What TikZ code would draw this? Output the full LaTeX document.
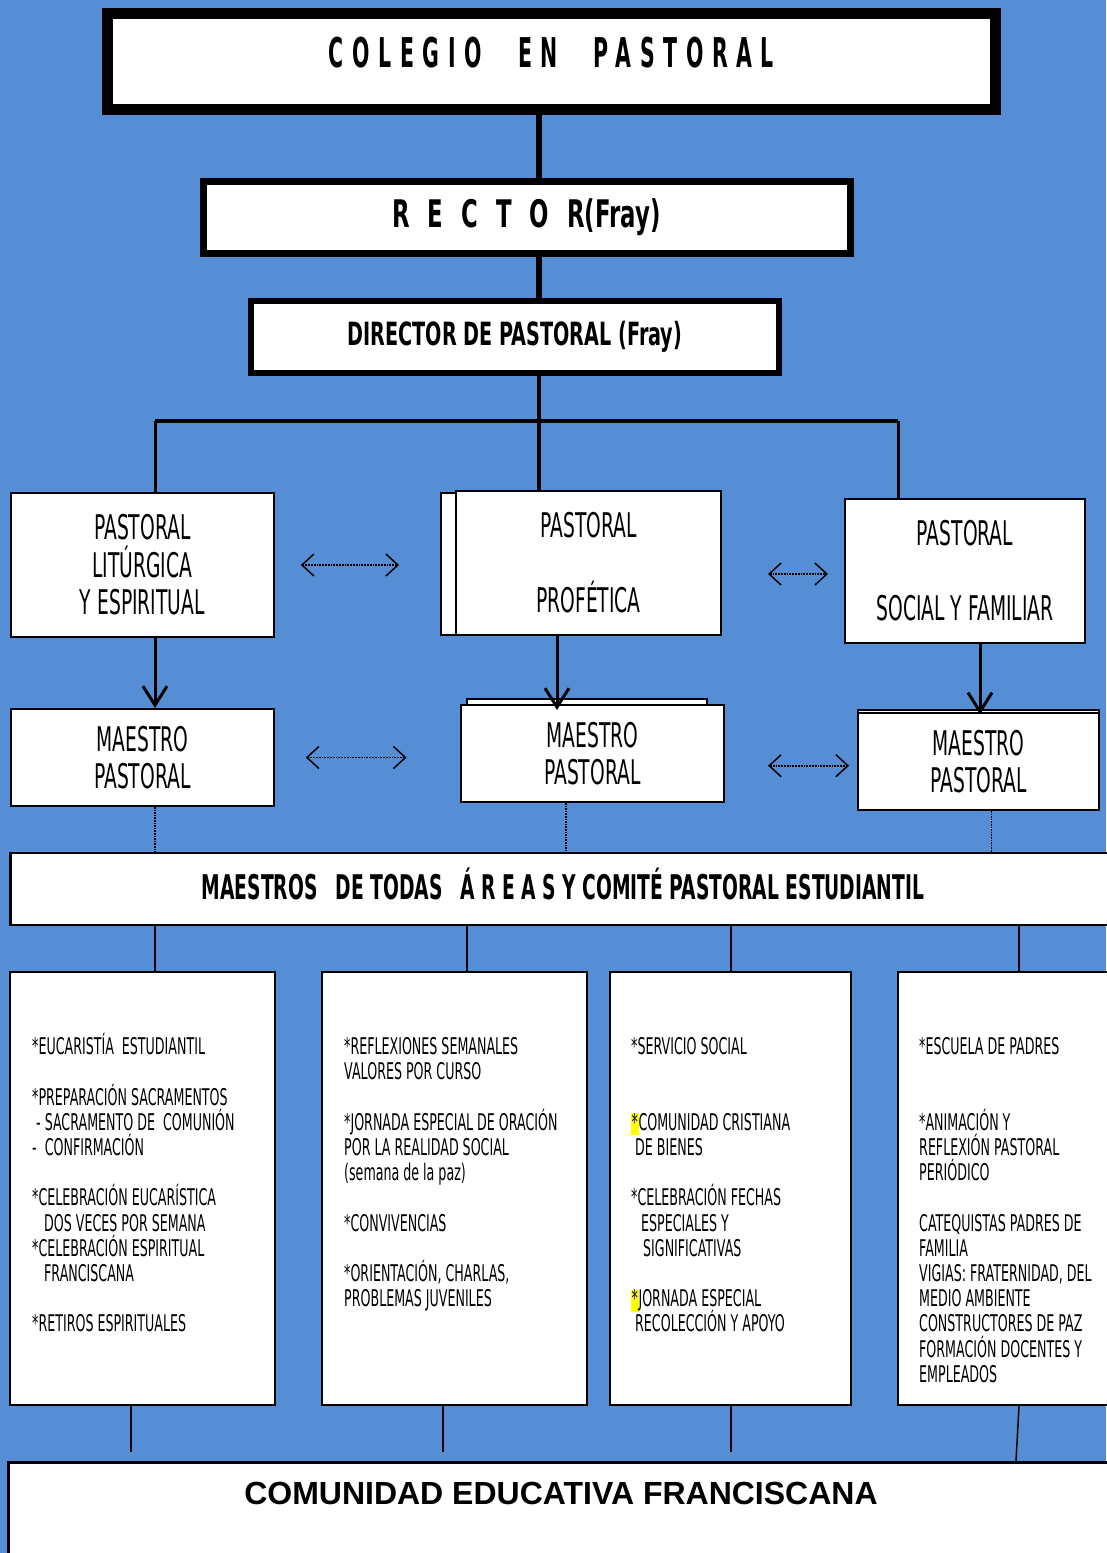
\documentclass[tikz,border=0pt]{standalone}
\usepackage{fontspec}
\setmainfont{DejaVu Sans}
\newfontfamily\agency[FakeStretch=0.55]{DejaVu Sans}
\newfontfamily\agencyb[FakeStretch=0.6]{DejaVu Sans}
\newfontfamily\agencyt[FakeStretch=0.5,LetterSpace=21]{DejaVu Sans}
\newfontfamily\arialb{Liberation Sans}
\usetikzlibrary{arrows.meta}
\usetikzlibrary{positioning}
\usetikzlibrary{calc}
\definecolor{fondo}{RGB}{85,142,213}
\definecolor{marca}{RGB}{255,255,0}
\setlength{\lineskiplimit}{-30pt}
\newcommand{\tope}{\rule{0pt}{22pt}}
\newcommand{\resalta}{{\setlength{\fboxsep}{0pt}\colorbox{marca}{\rule[-5pt]{0pt}{20pt}\hspace{0.5pt}*\hspace{0.5pt}}}}
\tikzset{
  caja/.style={draw,line width=2pt,fill=white,inner sep=0pt,align=center,
    font=\agency\fontsize{34}{37.5}\selectfont},
  marco/.style={draw,fill=white,inner sep=0pt,align=center},
  lista/.style={anchor=north west,inner sep=0pt,align=left,
    font=\agency\fontsize{23}{25.2}\selectfont},
  flecha/.style={line width=3pt,-{Straight Barb[length=19pt,width=24pt,line width=3pt]}},
  enlace/.style={densely dotted,line width=1.8pt,
    {Straight Barb[length=12pt,width=22pt,line width=1.5pt]}-{Straight Barb[length=12pt,width=22pt,line width=1.5pt]}}
}
\begin{document}
\begin{tikzpicture}[x=1pt,y=-1pt]
       \fill[fondo] (0,0) rectangle (1106,1553);
       \useasboundingbox (0,0) rectangle (1106,1553);
       % cabecera
       \node[marco,line width=11pt,minimum width=887.5pt,minimum height=96.5pt] (colegio) at (551.25,61.25) {};
       \node[font=\agencyt\bfseries\fontsize{41}{45}\selectfont] (colegiot) at (551.5,53) {COLEGIO\hspace{36pt}EN\hspace{36pt}PASTORAL};
       \node[marco,line width=7pt,minimum width=647pt,minimum height=72.5pt,
             font=\agencyb\bfseries\fontsize{38}{42}\selectfont] (rector) at (526.5,217.25)
             {R\hspace{18pt}E\hspace{18pt}C\hspace{18pt}T\hspace{18pt}O\hspace{18pt}R(Fray)};
       \node[marco,line width=6pt,minimum width=528pt,minimum height=72pt,
             font=\agencyb\bfseries\fontsize{32}{36}\selectfont] (director) at (515,337) {DIRECTOR DE PASTORAL (Fray)};
       \coordinate (eje) at (539,0);
       \draw[line width=6pt] (colegio.south -| eje) -- (rector.north -| eje);
       \draw[line width=6pt] (rector.south -| eje) -- (director.north -| eje);
       % pastorales
       \node[caja,minimum width=263pt,minimum height=144pt] (liturgica) at (142.3,565) {PASTORAL\\LITÚRGICA\\Y ESPIRITUAL};
       \node[caja,minimum width=269pt,minimum height=142pt] (profeticab) at (575.5,564) {};
       \node[caja,minimum width=265pt,minimum height=144pt] (profetica) at (588.5,563) {PASTORAL\\[37.5pt]PROFÉTICA};
       \node[caja,minimum width=240pt,minimum height=144pt] (social) at (965,571) {PASTORAL\\[37.5pt]SOCIAL Y FAMILIAR};
       \coordinate (izq) at (155,421);
       \coordinate (der) at (898,421);
       \draw[line width=4pt] (izq) -- (der);
       \draw[line width=4pt] (director.south -| eje) -- (profetica.north -| eje);
       \draw[line width=3pt] (izq) -- (izq |- liturgica.north);
       \draw[line width=3pt] (der) -- (der |- social.north);
       % maestros pastorales
       \node[caja,minimum width=263pt,minimum height=97pt] (maestro1) at (142.3,757.5) {MAESTRO\\PASTORAL};
       \node[caja,minimum width=240pt,minimum height=70pt] (maestro2b) at (587,734) {};
       \node[caja,minimum width=263.5pt,minimum height=97pt] (maestro2) at (592.3,753.5) {MAESTRO\\PASTORAL};
       \node[caja,minimum width=241pt,minimum height=70pt] (maestro3b) at (978.5,745) {};
       \node[caja,minimum width=241pt,minimum height=96.5pt] (maestro3) at (978.5,761.7) {MAESTRO\\PASTORAL};
       \draw[flecha] (liturgica.south -| izq) -- (maestro1.north -| izq);
       \draw[flecha] (profetica.south -| 557,0) -- ($(maestro2.north -| 557,0)+(0,6)$);
       \draw[flecha] (social.south -| 980,0) -- ($(maestro3.north -| 980,0)+(0,2)$);
       \draw[enlace,shorten <=26pt,shorten >=41pt] (liturgica.east) -- (liturgica.east -| profeticab.west);
       \draw[enlace,shorten <=46pt,shorten >=16pt] ($(social.west -| profetica.east)+(0,3)$) -- ($(social.west)+(0,3)$);
       \draw[enlace,shorten <=31pt,shorten >=53pt] (maestro1.east) -- (maestro1.east -| maestro2.west);
       \draw[enlace,shorten <=43pt,shorten >=8pt] ($(maestro3.west -| maestro2.east)+(0,4)$) -- ($(maestro3.west)+(0,4)$);
       % todas las areas
       \node[marco,line width=2.5pt,minimum width=1119pt,minimum height=72pt] (maestros) at (570,889) {};
       \node[font=\agency\bfseries\fontsize{34}{38}\selectfont] (maestrost) at (563,884)
             {MAESTROS\hspace{18pt}DE TODAS\hspace{18pt}Á R E A S Y COMITÉ PASTORAL ESTUDIANTIL};
       \draw[densely dotted,line width=1.6pt] (maestro1.south -| izq) -- (maestros.north -| izq);
       \draw[densely dotted,line width=1.6pt] (maestro2.south -| 566,0) -- (maestros.north -| 566,0);
       \draw[densely dotted,line width=1.6pt] (maestro3.south -| 991.5,0) -- (maestros.north -| 991.5,0);
       % actividades
       \node[caja,minimum width=265pt,minimum height=433pt] (area1) at (142.5,1188.5) {};
       \node[caja,minimum width=265pt,minimum height=433pt] (area2) at (454.5,1188.5) {};
       \node[caja,minimum width=241pt,minimum height=433pt] (area3) at (730.5,1188.5) {};
       \node[caja,minimum width=232pt,minimum height=433pt] (area4) at (1014,1188.5) {};
       \draw[line width=2pt] (maestros.south -| izq) -- (area1.north -| izq);
       \draw[line width=2pt] (maestros.south -| 467,0) -- (area2.north -| 467,0);
       \draw[line width=2pt] (maestros.south -| 731,0) -- (area3.north -| 731,0);
       \draw[line width=2pt] (maestros.south -| 1019,0) -- (area4.north -| 1019,0);
       \node[lista] (lista1) at (32,1032.5) {\tope*EUCARISTÍA\ \ ESTUDIANTIL\\[25.2pt]
             *PREPARACIÓN SACRAMENTOS\\
             \hspace*{4pt}- SACRAMENTO DE\ \ COMUNIÓN\\
             -\hspace*{8pt}CONFIRMACIÓN\\[25.2pt]
             *CELEBRACIÓN EUCARÍSTICA\\
             \hspace*{12pt}DOS VECES POR SEMANA\\
             *CELEBRACIÓN ESPIRITUAL\\
             \hspace*{12pt}FRANCISCANA\\[25.2pt]
             *RETIROS ESPIRITUALES};
       \node[lista] (lista2) at (344,1032.5) {\tope*REFLEXIONES SEMANALES\\
             VALORES POR CURSO\\[25.2pt]
             *JORNADA ESPECIAL DE ORACIÓN\\
             POR LA REALIDAD SOCIAL\\
             (semana de la paz)\\[25.2pt]
             *CONVIVENCIAS\\[25.2pt]
             *ORIENTACIÓN, CHARLAS,\\
             PROBLEMAS JUVENILES};
       \node[lista] (lista3) at (631,1032.5) {\tope*SERVICIO SOCIAL\\[50.4pt]
             \resalta COMUNIDAD CRISTIANA\\
             \hspace*{4pt}DE BIENES\\[25.2pt]
             *CELEBRACIÓN FECHAS\\
             \hspace*{10pt}ESPECIALES Y\\
             \hspace*{12pt}SIGNIFICATIVAS\\[25.2pt]
             \resalta JORNADA ESPECIAL\\
             \hspace*{4pt}RECOLECCIÓN Y APOYO};
       \node[lista] (lista4) at (919,1032.5) {\tope*ESCUELA DE PADRES\\[50.4pt]
             *ANIMACIÓN Y\\
             REFLEXIÓN PASTORAL\\
             PERIÓDICO\\[25.2pt]
             CATEQUISTAS PADRES DE\\
             FAMILIA\\
             VIGIAS: FRATERNIDAD, DEL\\
             MEDIO AMBIENTE\\
             CONSTRUCTORES DE PAZ\\
             FORMACIÓN DOCENTES Y\\
             EMPLEADOS};
       % comunidad
       \node[marco,line width=3pt,minimum width=1121pt,minimum height=115pt] (comunidad) at (569,1520) {};
       \node[font=\arialb\bfseries\fontsize{32}{36}\selectfont] (comunidadt) at (561,1493) {COMUNIDAD EDUCATIVA FRANCISCANA};
       \draw[line width=1.5pt,shorten >=9pt] (area1.south -| 131,0) -- (comunidad.north -| 131,0);
       \draw[line width=1.5pt,shorten >=9pt] (area2.south -| 443,0) -- (comunidad.north -| 443,0);
       \draw[line width=1.5pt,shorten >=9pt] (area3.south -| 731,0) -- (comunidad.north -| 731,0);
       \draw[line width=1.5pt] (area4.south -| 1019,0) -- (comunidad.north -| 1016,0);
\end{tikzpicture}
\end{document}
